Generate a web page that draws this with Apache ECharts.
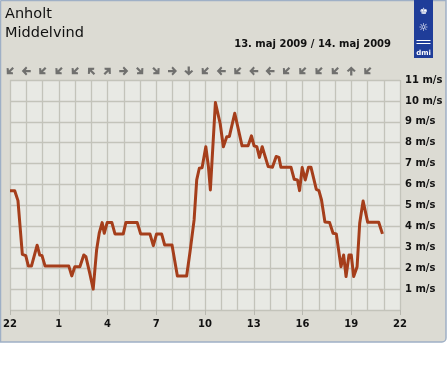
<!DOCTYPE html>
<html><head><meta charset="utf-8">
<script src="https://cdn.jsdelivr.net/npm/echarts@6/dist/echarts.min.js"></script>
<style>html,body{margin:0;padding:0;background:#fff}#c{width:447px;height:370px}</style>
</head><body><div id="c"></div>
<script>
// hours since 22:00 (13. maj) and mean wind speed (m/s)
const hoursSince22 = [0,0.29,0.49,0.76,0.97,1.13,1.32,1.67,1.83,1.97,2.16,3.62,3.8,3.99,4.3,4.54,4.67,4.91,5.12,5.33,5.49,5.67,5.8,5.98,6.27,6.46,6.97,7.13,7.83,8.04,8.61,8.82,9.02,9.33,9.52,9.97,10.3,10.87,11.08,11.33,11.49,11.65,11.82,12.05,12.21,12.33,12.64,12.93,13.13,13.34,13.5,13.83,14.28,14.65,14.86,15.02,15.19,15.35,15.52,15.89,16.15,16.38,16.55,16.67,17.29,17.49,17.69,17.82,17.98,18.17,18.37,18.52,18.85,19.01,19.17,19.38,19.67,19.88,20.08,20.37,20.53,20.68,20.86,21.0,21.15,21.36,21.52,21.73,22.01,22.69,22.92];
const speeds = [5.7,5.7,5.23,2.66,2.6,2.1,2.1,3.1,2.63,2.6,2.1,2.1,1.63,2.07,2.07,2.63,2.55,1.75,1.0,2.87,3.67,4.18,3.67,4.18,4.18,3.64,3.64,4.18,4.18,3.64,3.64,3.08,3.64,3.64,3.11,3.11,1.63,1.63,2.79,4.31,6.22,6.78,6.8,7.81,6.86,5.74,9.92,8.93,7.81,8.29,8.3,9.41,7.85,7.85,8.33,7.85,7.81,7.3,7.81,6.86,6.83,7.34,7.3,6.83,6.83,6.25,6.22,5.71,6.81,6.22,6.83,6.83,5.77,5.71,5.26,4.21,4.18,3.67,3.64,2.07,2.63,1.6,2.63,2.63,1.6,2.07,4.15,5.21,4.2,4.2,3.64];
// wind direction arrows, one per hour (rotation in degrees, CCW from pointing up)
const arrowHours = [0,1,2,3,4,5,6,7,8,9,10,11,12,13,14,15,16,17,18,19,20,21,22];
const arrowRotations = [135,90,135,135,135,45,-45,-90,-135,-135,-90,180,135,90,135,90,90,135,135,135,135,0,135];
const xTickLabels = ['22','1','4','7','10','13','16','19','22'];
const stationName = 'Anholt';
const paramName = 'Middelvind';
const dateText = '13. maj 2009 / 14. maj 2009';

const chart = echarts.init(document.getElementById('c'));
const font = 'DejaVu Sans';
const arrowPath = 'path://M-4,0 L0,-4.5 L4,0 L2.6,1.4 L1,-0.2 L1,5 L-1,5 L-1,-0.2 L-2.6,1.4 Z';
chart.setOption({
  animation:false,
  backgroundColor:'#ffffff',
  graphic:[
    {type:'rect',z:-10,shape:{x:0.5,y:0.5,width:445.5,height:341.5,r:[0,0,4,0]},style:{fill:'#dcdbd3',stroke:'#9fb0c6',lineWidth:1.5}},
    {type:'text',left:5,top:7,style:{text:stationName,font:'14.5px "DejaVu Sans"',fill:'#111'}},
    {type:'text',left:5,top:26,style:{text:paramName,font:'14.5px "DejaVu Sans"',fill:'#111'}},
    {type:'text',right:56,top:39,style:{text:dateText,font:'bold 10px "DejaVu Sans"',fill:'#111'}},
    {type:'rect',shape:{x:414,y:0,width:19,height:58},style:{fill:'#1f3d99'}},
    {type:'text',x:423.5,y:12,style:{text:'♚',font:'9px "DejaVu Sans"',fill:'#fff',align:'center',verticalAlign:'middle'}},
    {type:'text',x:423.5,y:28,style:{text:'☼',font:'11px "DejaVu Sans"',fill:'#fff',align:'center',verticalAlign:'middle'}},
    {type:'rect',shape:{x:416.5,y:40,width:14,height:1},style:{fill:'#fff'}},
    {type:'rect',shape:{x:416.5,y:43,width:14,height:1},style:{fill:'#fff'}},
    {type:'text',x:423.5,y:53,style:{text:'dmi',font:'bold 7px "DejaVu Sans"',fill:'#fff',align:'center',verticalAlign:'middle'}}
  ],
  grid:[
    {left:10,right:47,top:80,height:230,containLabel:false},
    {left:10,right:47,top:64,height:14,containLabel:false}
  ],
  xAxis:[
    {type:'value',gridIndex:0,min:0,max:24,interval:3,offset:5,
     axisLine:{show:false},
     axisTick:{show:true,length:5,lineStyle:{color:'#b8b8b0'}},
     axisLabel:{margin:4,fontFamily:font,fontWeight:'bold',fontSize:10,color:'#111',
       formatter:v=>xTickLabels[Math.round(v/3)]},
     splitLine:{show:true,lineStyle:{color:'#c3c3ba',width:1.3}},
     minorTick:{show:false,splitNumber:3},
     minorSplitLine:{show:true,lineStyle:{color:'#c3c3ba',width:1.3}}},
    {type:'value',gridIndex:1,min:0,max:24,show:false}
  ],
  yAxis:[
    {type:'value',gridIndex:0,min:0,max:11,interval:1,position:'right',
     axisLine:{show:false},axisTick:{show:false},
     axisLabel:{margin:5,fontFamily:font,fontWeight:'bold',fontSize:10,color:'#111',
       formatter:v=>v===0?'':v+' m/s'},
     splitLine:{show:true,lineStyle:{color:'#c3c3ba',width:1.3}}},
    {type:'value',gridIndex:1,min:0,max:1,show:false}
  ],
  series:[
    {type:'line',xAxisIndex:0,yAxisIndex:0,data:hoursSince22.map((h,i)=>[h,speeds[i]]),
     showSymbol:false,symbol:'none',lineStyle:{color:'#a53e1b',width:3,join:'round'}},
    {type:'scatter',xAxisIndex:1,yAxisIndex:1,
     data:arrowHours.map((h,i)=>({value:[h,0.5],symbolRotate:arrowRotations[i]})),
     symbol:arrowPath,symbolSize:9,itemStyle:{color:'#555555'},silent:true}
  ]
});
// plot background
const p = chart.convertToPixel({gridIndex:0},[0,11]);
const q = chart.convertToPixel({gridIndex:0},[24,0]);
chart.setOption({graphic:[{type:'rect',id:'bg',z:-5,shape:{x:p[0],y:p[1],width:q[0]-p[0],height:q[1]-p[1]},style:{fill:'#e8e9e4'}}]});
</script></body></html>
